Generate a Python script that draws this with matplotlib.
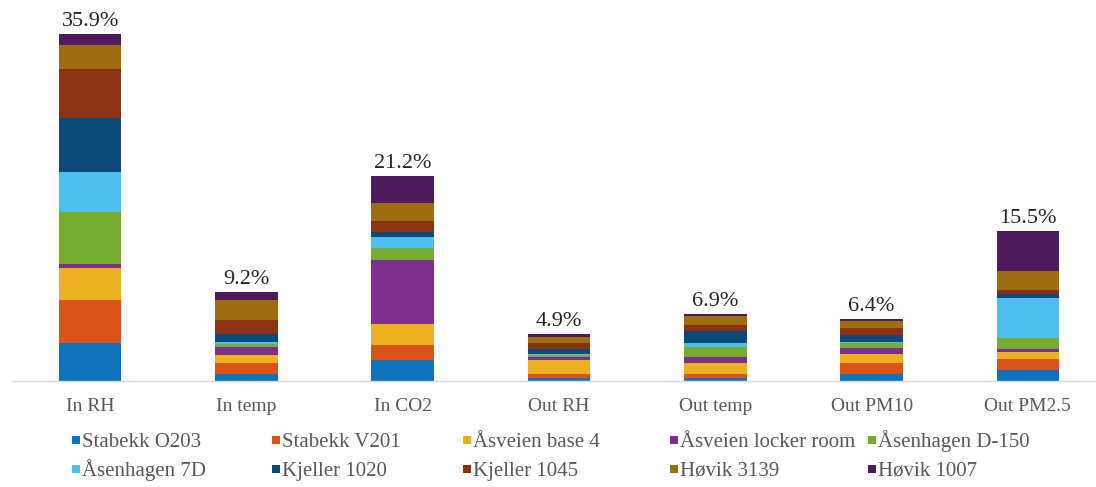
import matplotlib
matplotlib.use("Agg")
import matplotlib.pyplot as plt
import numpy as np
from matplotlib.patches import Rectangle

categories = ["In RH", "In temp", "In CO2", "Out RH", "Out temp", "Out PM10", "Out PM2.5"]

series_names = ["Stabekk O203", "Stabekk V201", "Åsveien base 4", "Åsveien locker room",
                "Åsenhagen D-150", "Åsenhagen 7D", "Kjeller 1020", "Kjeller 1045",
                "Høvik 3139", "Høvik 1007"]

# share (%) contributed by each location, per variable
stabekk_o203 = [3.96, 0.70, 2.20, 0.35, 0.35, 0.69, 1.15]
stabekk_v201 = [4.42, 1.12, 1.50, 0.35, 0.35, 1.14, 1.16]
asveien_base4 = [3.28, 0.90, 2.23, 1.45, 1.15, 0.93, 0.70]
asveien_locker = [0.41, 0.76, 6.63, 0.33, 0.60, 0.69, 0.31]
asenhagen_d150 = [5.44, 0.35, 1.15, 0.17, 1.05, 0.45, 1.16]
asenhagen_7d = [4.14, 0.18, 1.15, 0.17, 0.42, 0.18, 4.10]
kjeller_1020 = [5.52, 0.87, 0.60, 0.50, 1.25, 0.65, 0.45]
kjeller_1045 = [5.07, 1.38, 1.04, 0.58, 0.60, 0.80, 0.42]
hovik_3139 = [2.51, 2.08, 1.91, 0.60, 0.95, 0.69, 1.92]
hovik_1007 = [1.14, 0.86, 2.79, 0.40, 0.18, 0.18, 4.13]

totals = [35.9, 9.2, 21.2, 4.9, 6.9, 6.4, 15.5]

series = [stabekk_o203, stabekk_v201, asveien_base4, asveien_locker, asenhagen_d150,
          asenhagen_7d, kjeller_1020, kjeller_1045, hovik_3139, hovik_1007]

colors = ["#0F72BD", "#DA5419", "#EDB021", "#7E2F8E", "#77AC30",
          "#4DBEEE", "#0B4A78", "#8A3311", "#9C6E10", "#4E1A5B"]

plt.rcParams["font.family"] = ["Liberation Serif", "DejaVu Serif"]

W, H = 1096, 487
fig = plt.figure(figsize=(W / 100, H / 100), dpi=100)
ax = fig.add_axes([12 / W, 106 / H, 1094 / W, 381 / H])

x = np.arange(len(categories))
bottom = np.zeros(len(categories))
for vals, name, col in zip(series, series_names, colors):
    ax.bar(x, vals, width=0.4, bottom=bottom, color=col, label=name, linewidth=0)
    bottom += np.array(vals)

for xi, tot in zip(x, totals):
    ax.annotate(f"{tot:.1f}%", (xi, tot), xytext=(0, 2), textcoords="offset points",
                ha="center", va="bottom", fontsize=16, color="#262626")

ax.set_xlim(-0.5, len(categories) - 0.5)
ax.set_ylim(0, 39.4)
ax.set_xticks(x)
ax.set_xticklabels(categories, fontsize=14, color="#595959")
ax.tick_params(axis="x", length=0, pad=12)
ax.set_yticks([])
for side in ["top", "left", "right"]:
    ax.spines[side].set_visible(False)
ax.spines["bottom"].set_color("#D9D9D9")
ax.spines["bottom"].set_linewidth(1.0)

# legend: five fixed-width columns on two text baselines
col_x = [72, 272, 463, 670, 868]
row_base = [447, 476]
sq = 8
for i, (name, col) in enumerate(zip(series_names, colors)):
    r, c = divmod(i, 5)
    x0 = col_x[c]
    yb = H - row_base[r]
    fig.patches.append(Rectangle(((x0) / W, (yb + 3) / H), sq / W, sq / H,
                                 facecolor=col, edgecolor="none",
                                 transform=fig.transFigure, figure=fig))
    fig.text((x0 + sq + 2) / W, yb / H, name, ha="left", va="baseline",
             fontsize=15, color="#595959")

fig.savefig("out.png", dpi=100)
